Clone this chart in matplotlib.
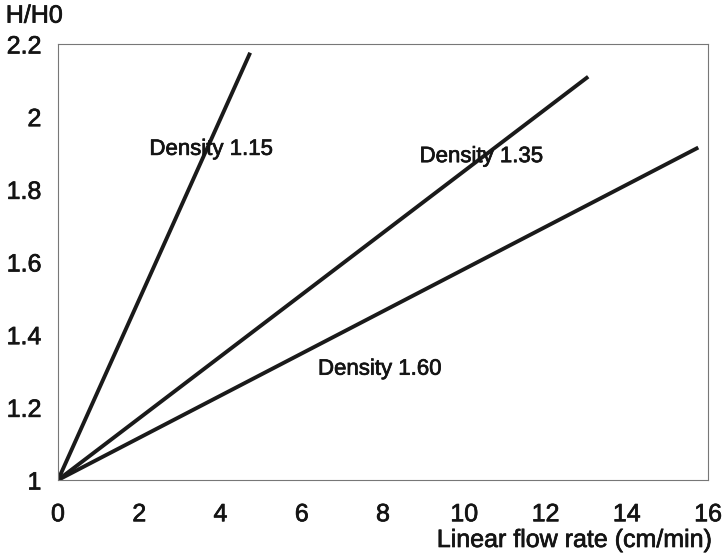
import matplotlib
matplotlib.use("Agg")
import matplotlib.pyplot as plt
import matplotlib.patheffects as pe

# Data (linear relations through (0, 1))
densities = ["Density 1.15", "Density 1.35", "Density 1.60"]
x_end = [4.73, 13.05, 15.76]
y_end = [2.176, 2.11, 1.915]
label_x = [2.25, 8.9, 6.4]
label_y = [1.91, 1.89, 1.305]

xticks = [0, 2, 4, 6, 8, 10, 12, 14, 16]
yticks = [1, 1.2, 1.4, 1.6, 1.8, 2, 2.2]
yticklabels = ["1", "1.2", "1.4", "1.6", "1.8", "2", "2.2"]

plt.rcParams["font.family"] = ["Liberation Sans", "DejaVu Sans"]
ink = "#141414"
thick = [pe.withStroke(linewidth=0.5, foreground=ink)]

fig = plt.figure(figsize=(7.25, 5.59), dpi=100)
ax = fig.add_axes([0.08, 0.1413, 0.8966, 0.78])

for name, xe, ye, lx, ly in zip(densities, x_end, y_end, label_x, label_y):
    ax.plot([0, xe], [1, ye], color="#1a1a1a", linewidth=2.8, solid_capstyle="butt")
    ax.text(lx, ly, name, fontsize=16, color=ink, va="center", ha="left",
            path_effects=thick)

ax.set_xlim(0, 16)
ax.set_ylim(1, 2.2)
ax.set_xticks(xticks)
ax.set_xticklabels([str(t) for t in xticks])
ax.set_yticks(yticks)
ax.set_yticklabels(yticklabels)
ax.tick_params(length=0, labelsize=18, colors=ink)
ax.tick_params(axis="x", pad=16)
ax.tick_params(axis="y", pad=12)
for lab in ax.get_xticklabels() + ax.get_yticklabels():
    lab.set_path_effects(thick)
for s in ax.spines.values():
    s.set_color("#777777")
    s.set_linewidth(0.8)

fig.text(0.008, 0.972, "H/H0", fontsize=18, va="center", ha="left", color=ink,
         path_effects=thick)
fig.text(0.982, 0.034, "Linear flow rate (cm/min)", fontsize=18, va="center",
         ha="right", color=ink, path_effects=thick)

fig.savefig("out.png", dpi=100)
